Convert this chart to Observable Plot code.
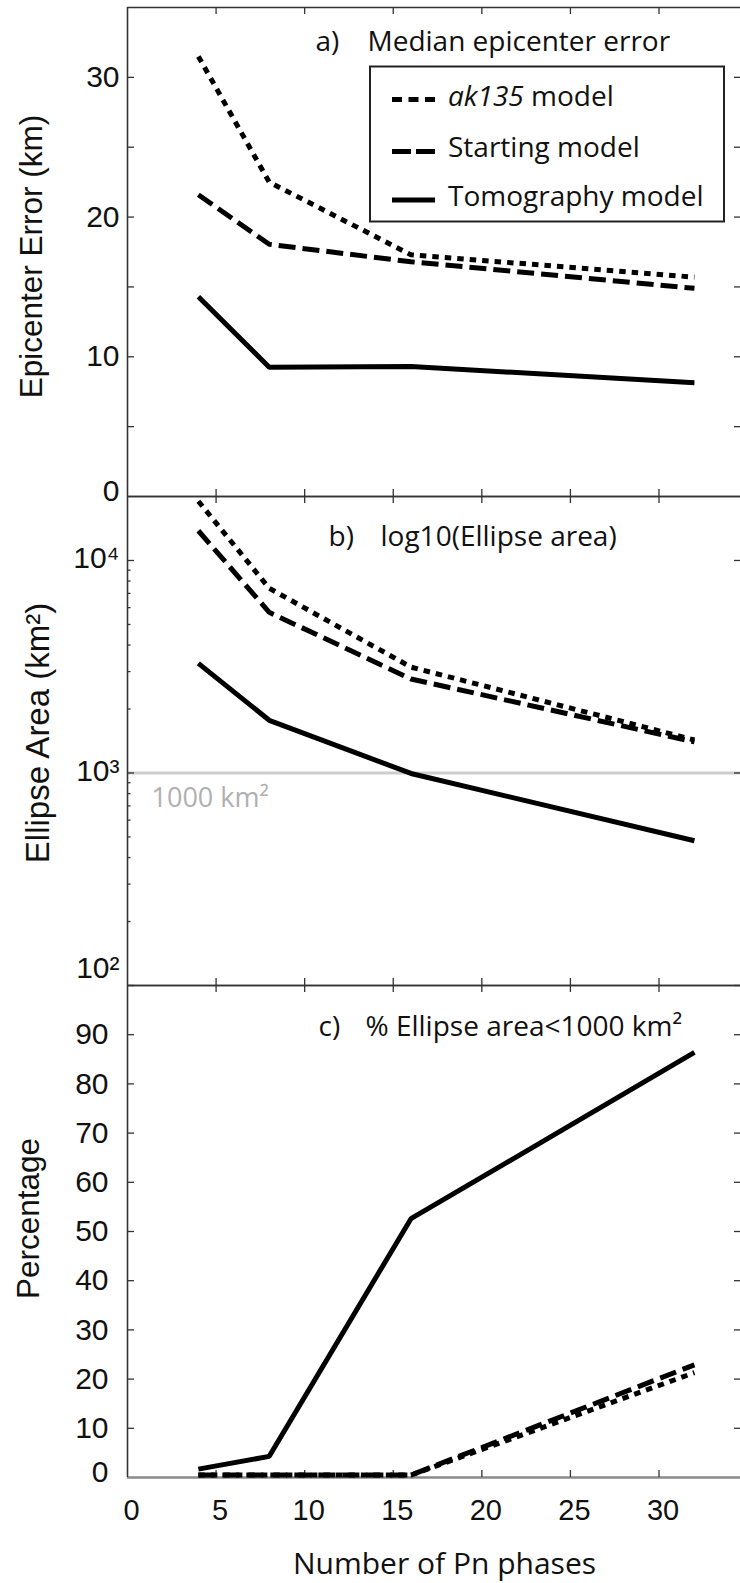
<!DOCTYPE html>
<html><head><meta charset="utf-8">
<script src="https://cdn.jsdelivr.net/npm/d3@7"></script>
<script src="https://cdn.jsdelivr.net/npm/@observablehq/plot@0.6"></script>
<style>
html,body{margin:0;padding:0;background:#fff;}
#wrap{position:relative;width:740px;height:1583px;overflow:hidden;background:#fff;}
</style></head><body><div id="wrap"></div>
<script>
// ---- data ----
const phases = [4, 8, 16, 32];
const seriesNames = ["ak135", "Starting model", "Tomography model"];
const errAk135 = [31.5, 22.5, 17.3, 15.7];
const errStart = [21.6, 18.05, 16.8, 14.9];
const errTomo  = [14.3, 9.25, 9.3, 8.15];
const areaAk135 = [19000, 7400, 3150, 1430];
const areaStart = [13800, 5700, 2770, 1400];
const areaTomo  = [3280, 1770, 995, 480];
const pctAk135 = [0.5, 0.5, 0.5, 21.3];
const pctStart = [0.5, 0.5, 0.5, 22.9];
const pctTomo  = [1.7, 4.3, 52.6, 86.4];
const xTicks = [5, 10, 15, 20, 25, 30];
const xTickLabels = [0, 5, 10, 15, 20, 25, 30];
const yTicksA = [5, 10, 15, 20, 25, 30];
const yLabelsA = [0, 10, 20, 30];
const yMajorB = [100, 1000, 10000];
const yMinorB = [200, 300, 400, 500, 600, 700, 800, 900, 2000, 3000, 4000, 5000, 6000, 7000, 8000, 9000];
const yTicksC = [10, 20, 30, 40, 50, 60, 70, 80, 90];
const yLabelsC = [0, 10, 20, 30, 40, 50, 60, 70, 80, 90];
const referenceArea = 1000;

// ---- layout / style ----
const W = 740, ML = 127, FW = W - ML;
const AX = "'Liberation Sans', Arial, Helvetica, sans-serif";
const MY = "'Open Sans', 'Noto Sans', sans-serif";
const FC = "#333";
const dots = "6.5,6", dashes = "17,7";
const xScale = {domain: [0, 34.6], axis: null};
const rows = ys => phases.map((x, i) => ({x, y: ys[i]}));
const ln = (ys, dash) => Plot.line(rows(ys), {x: "x", y: "y", stroke: "#000", strokeWidth: 5,
  strokeLinecap: "butt", strokeLinejoin: "miter", strokeDasharray: dash});
const tickStyle = {stroke: FC, strokeWidth: 1.3};
const sup = {"0":"⁰","1":"¹","2":"²","3":"³","4":"⁴","5":"⁵","6":"⁶","7":"⁷","8":"⁸","9":"⁹"};
const fmtPow = d => "10" + String(Math.round(Math.log10(d))).split("").map(c => sup[c]).join("");
const wrap = document.getElementById("wrap");
function place(svg, top) {
  svg.style.position = "absolute"; svg.style.left = "0px"; svg.style.top = top + "px";
  svg.style.background = "transparent"; svg.style.overflow = "visible";
  wrap.appendChild(svg);
}
function edgeX(FH) {
  return [
    Plot.tickX(xTicks, {x: d => d, insetBottom: FH - 7, ...tickStyle}),
    Plot.tickX(xTicks, {x: d => d, insetTop: FH - 7, ...tickStyle})
  ];
}
const TF = 30; // tick font size

// ---- panel a ----
const HA = 500, MTA = 7, MBA = 4, FHA = HA - MTA - MBA;
const plotA = Plot.plot({
  width: W, height: HA, marginLeft: ML, marginRight: 0, marginTop: MTA, marginBottom: MBA,
  style: {background: "transparent", overflow: "visible"},
  x: xScale, y: {domain: [0, 35], axis: null},
  marks: [
    Plot.ruleY([35], {stroke: FC, strokeWidth: 1.6}),
    Plot.ruleY([0], {stroke: FC, strokeWidth: 1.6}),
    Plot.ruleX([0], {stroke: FC, strokeWidth: 1.6}),
    ...edgeX(FHA),
    Plot.tickY(yTicksA, {y: d => d, insetRight: FW - 7, ...tickStyle}),
    Plot.tickY(yTicksA, {y: d => d, insetLeft: FW - 6, ...tickStyle}),
    Plot.text(yLabelsA.filter(d => d > 0), {y: d => d, text: d => String(d), frameAnchor: "left", textAnchor: "end", dx: -8, fontSize: TF, fontFamily: AX, fill: "#111"}),
    Plot.text(yLabelsA.filter(d => d === 0), {y: d => d, text: d => String(d), frameAnchor: "left", textAnchor: "end", dx: -8, dy: -5, fontSize: TF, fontFamily: AX, fill: "#111"}),
    ln(errAk135, dots), ln(errStart, dashes), ln(errTomo, null),
    Plot.text(["a)"], {text: d => d, frameAnchor: "top-left", dx: 188, dy: 43, textAnchor: "start", lineAnchor: "bottom", fontSize: 28, fontFamily: MY, fill: "#111"}),
    Plot.text(["Median epicenter error"], {text: d => d, frameAnchor: "top-left", dx: 240, dy: 43, textAnchor: "start", lineAnchor: "bottom", fontSize: 28, fontFamily: MY, fill: "#111"}),
    Plot.text(["Epicenter Error (km)"], {text: d => d, frameAnchor: "left", rotate: -90, dx: -96, dy: 4.5, textAnchor: "middle", lineAnchor: "middle", fontSize: 31.5, fontFamily: AX, fill: "#111"})
  ]
});
place(plotA, 0);

// ---- panel b ----
const HB = 500, MTB = 6, MBB = 5, FHB = HB - MTB - MBB;
const plotB = Plot.plot({
  width: W, height: HB, marginLeft: ML, marginRight: 0, marginTop: MTB, marginBottom: MBB,
  style: {background: "transparent", overflow: "visible"},
  x: xScale, y: {type: "log", domain: [100, 20000], axis: null},
  marks: [
    Plot.ruleY([referenceArea], {stroke: "#cdcdcd", strokeWidth: 3}),
    Plot.ruleY([20000], {stroke: FC, strokeWidth: 1.6}),
    Plot.ruleY([100], {stroke: FC, strokeWidth: 1.6}),
    Plot.ruleX([0], {stroke: FC, strokeWidth: 1.6}),
    ...edgeX(FHB),
    Plot.tickY(yMajorB, {y: d => d, insetRight: FW - 7, ...tickStyle}),
    Plot.tickY(yMinorB, {y: d => d, insetRight: FW - 3.5, ...tickStyle}),
    Plot.tickY(yMajorB, {y: d => d, insetLeft: FW - 6, ...tickStyle}),
    Plot.text(yMajorB.filter(d => d > 100), {y: d => d, text: fmtPow, frameAnchor: "left", textAnchor: "end", dx: -8, dy: -2, fontSize: TF, fontFamily: AX, fill: "#111"}),
    Plot.text(yMajorB.filter(d => d === 100), {y: d => d, text: fmtPow, frameAnchor: "left", textAnchor: "end", dx: -8, dy: -17, fontSize: TF, fontFamily: AX, fill: "#111"}),
    Plot.text(["1000 km²"], {text: d => d, frameAnchor: "top-left", dx: 24, dy: 310, textAnchor: "start", lineAnchor: "bottom", fontSize: 27, fontFamily: MY, fill: "#b0b0b0"}),
    ln(areaAk135, dots), ln(areaStart, dashes), ln(areaTomo, null),
    Plot.text(["b)"], {text: d => d, frameAnchor: "top-left", dx: 201, dy: 49, textAnchor: "start", lineAnchor: "bottom", fontSize: 28, fontFamily: MY, fill: "#111"}),
    Plot.text(["log10(Ellipse area)"], {text: d => d, frameAnchor: "top-left", dx: 253, dy: 49, textAnchor: "start", lineAnchor: "bottom", fontSize: 28, fontFamily: MY, fill: "#111"}),
    Plot.text(["Ellipse Area (km²)"], {text: d => d, frameAnchor: "left", rotate: -90, dx: -89, dy: -8, textAnchor: "middle", lineAnchor: "middle", fontSize: 33, fontFamily: AX, fill: "#111"})
  ]
});
place(plotB, 490);

// ---- panel c ----
const HC = 604, MTC = 6, MBC = 106, FHC = HC - MTC - MBC;
const plotC = Plot.plot({
  width: W, height: HC, marginLeft: ML, marginRight: 0, marginTop: MTC, marginBottom: MBC,
  style: {background: "transparent", overflow: "visible"},
  x: xScale, y: {domain: [0, 100], axis: null},
  marks: [
    Plot.ruleY([100], {stroke: FC, strokeWidth: 1.6}),
    Plot.ruleY([0], {stroke: "#8a8a8a", strokeWidth: 2.5}),
    Plot.ruleX([0], {stroke: FC, strokeWidth: 1.6}),
    ...edgeX(FHC),
    Plot.tickY(yTicksC, {y: d => d, insetRight: FW - 7, ...tickStyle}),
    Plot.tickY(yTicksC, {y: d => d, insetLeft: FW - 6, ...tickStyle}),
    Plot.text(yLabelsC.filter(d => d > 0), {y: d => d, text: d => String(d), frameAnchor: "left", textAnchor: "end", dx: -19, fontSize: TF, fontFamily: AX, fill: "#111"}),
    Plot.text(yLabelsC.filter(d => d === 0), {y: d => d, text: d => String(d), frameAnchor: "left", textAnchor: "end", dx: -19, dy: -5, fontSize: TF, fontFamily: AX, fill: "#111"}),
    ln(pctAk135, dots), ln(pctStart, dashes), ln(pctTomo, null),
    Plot.text(xTickLabels, {x: d => d, text: d => String(d), frameAnchor: "bottom", dx: 4, dy: 33, textAnchor: "middle", lineAnchor: "middle", fontSize: 29, fontFamily: AX, fill: "#111"}),
    Plot.text(["Number of Pn phases"], {text: d => d, frameAnchor: "bottom", dx: 10.5, dy: 96, textAnchor: "middle", lineAnchor: "bottom", fontSize: 30, fontFamily: MY, fill: "#111"}),
    Plot.text(["c)"], {text: d => d, frameAnchor: "top-left", dx: 191, dy: 50, textAnchor: "start", lineAnchor: "bottom", fontSize: 28, fontFamily: MY, fill: "#111"}),
    Plot.text(["% Ellipse area<1000 km²"], {text: d => d, frameAnchor: "top-left", dx: 238, dy: 50, textAnchor: "start", lineAnchor: "bottom", fontSize: 28, fontFamily: MY, fill: "#111"}),
    Plot.text(["Percentage"], {text: d => d, frameAnchor: "left", rotate: -90, dx: -99, dy: -13, textAnchor: "middle", lineAnchor: "middle", fontSize: 31.5, fontFamily: AX, fill: "#111"})
  ]
});
place(plotC, 979);

// ---- legend (panel a) ----
const leg = d3.create("svg").attr("width", W).attr("height", 240)
  .style("position", "absolute").style("left", "0px").style("top", "0px").style("overflow", "visible");
leg.append("rect").attr("x", 370).attr("y", 66.5).attr("width", 354).attr("height", 155)
  .attr("fill", "#fff").attr("stroke", "#222").attr("stroke-width", 2);
const legItems = [
  {dash: "10,6.5", y: 99.5, base: 106},
  {dash: "19,5", y: 151.5, base: 157},
  {dash: null, y: 200, base: 206}
];
legItems.forEach((it, i) => {
  leg.append("line").attr("x1", 392).attr("x2", 435).attr("y1", it.y).attr("y2", it.y)
    .attr("stroke", "#000").attr("stroke-width", 5).attr("stroke-dasharray", it.dash);
  const t = leg.append("text").attr("x", 448).attr("y", it.base)
    .attr("font-family", MY).attr("font-size", 28).attr("fill", "#111");
  if (i === 0) {
    t.append("tspan").attr("font-style", "italic").text(seriesNames[0]);
    t.append("tspan").text(" model");
  } else t.text(seriesNames[i]);
});
wrap.appendChild(leg.node());
</script></body></html>
